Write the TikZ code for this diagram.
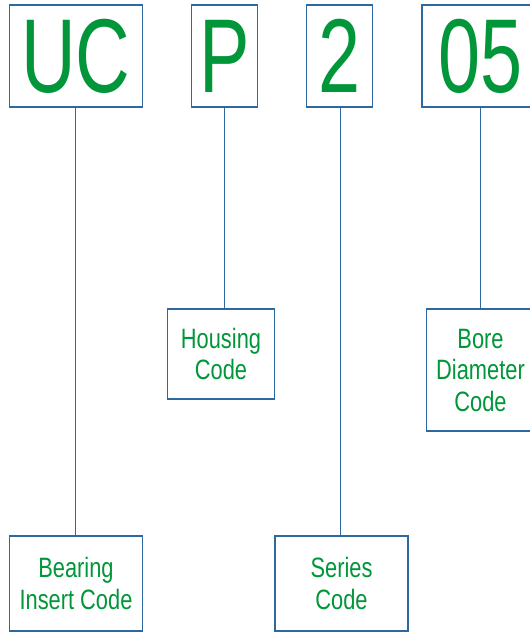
\documentclass[tikz,border=0pt]{standalone}
\usepackage{fontspec}
\setmainfont{Liberation Sans}
\newfontfamily\bigfam[FakeStretch=0.72]{Liberation Sans}
\newfontfamily\smallfam[FakeStretch=0.78]{Liberation Sans}
\definecolor{boxblue}{RGB}{45,105,160}
\definecolor{txtgreen}{RGB}{0,150,57}
\tikzset{
  codebox/.style={draw=boxblue, line width=1.2pt, inner sep=0pt, text=txtgreen,
    font={\bigfam\fontsize{105}{110}\selectfont}},
  labelbox/.style={draw=boxblue, line width=1.2pt, inner sep=0pt, text=txtgreen, align=center,
    font={\smallfam\fontsize{28}{31.5}\selectfont}},
  link/.style={draw=boxblue, line width=1.2pt}
}
\begin{document}
\begin{tikzpicture}[x=1pt,y=-1pt]
\useasboundingbox (0,0) rectangle (530,632);
\clip (0,0) rectangle (530,632);
% top code boxes
\node[codebox, minimum width=133pt, minimum height=102pt] (uc) at (76,56) {UC};
\node[codebox, minimum width=66pt, minimum height=102pt] (p) at (224.5,56) {P};
\node[codebox, minimum width=66pt, minimum height=102pt] (two) at (339.5,56) {2};
\node[codebox, minimum width=117pt, minimum height=102pt] (ofive) at (480.5,56) {05};
% label boxes
\node[labelbox, minimum width=107pt, minimum height=90pt] (housing) at (221,354) {Housing\\Code};
\node[labelbox, minimum width=108pt, minimum height=122pt] (bore) at (480.5,370) {Bore\\Diameter\\Code};
\node[labelbox, minimum width=133pt, minimum height=95pt] (bearing) at (76,583.5) {Bearing\\Insert Code};
\node[labelbox, minimum width=133pt, minimum height=95pt] (series) at (341.5,583.5) {Series\\Code};
% junction points on the lower boxes
\coordinate (ucfoot) at ([xshift=-0.5pt]uc.south);
\coordinate (twofoot) at ([xshift=1pt]two.south);
% connectors
\draw[link] (ucfoot) -- (ucfoot |- bearing.north);
\draw[link] (p.south) -- (p.south |- housing.north);
\draw[link] (twofoot) -- (twofoot |- series.north);
\draw[link] (ofive.south) -- (bore.north);
\end{tikzpicture}
\end{document}
